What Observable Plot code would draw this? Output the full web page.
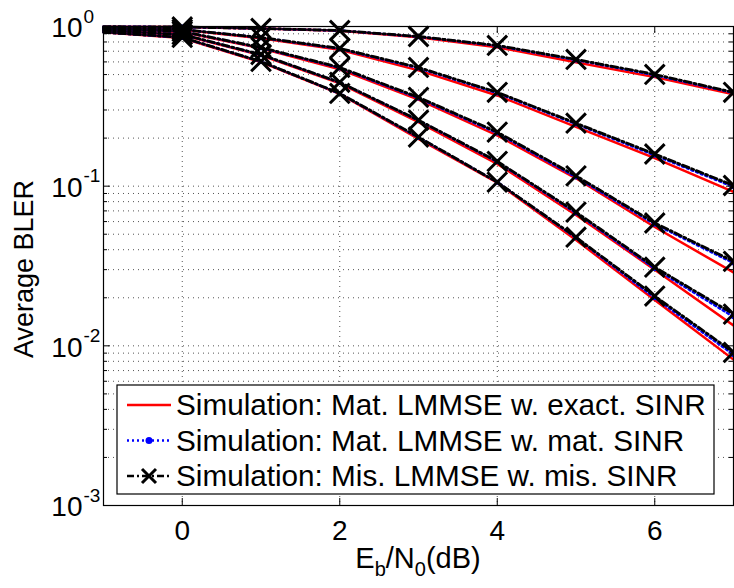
<!DOCTYPE html>
<html><head><meta charset="utf-8">
<script src="https://cdn.jsdelivr.net/npm/d3@7"></script>
<script src="https://cdn.jsdelivr.net/npm/@observablehq/plot@0.6"></script>
<style>body{margin:0;background:#fff}#chart{width:734px;height:588px}</style>
</head><body><div id="chart"></div>
<script>
const xs = [-1, 0, 1, 2, 3, 4, 5, 6, 7];
const groups = ["A", "B", "C", "D", "E"];
// Simulation: Mat. LMMSE w. exact. SINR (red solid)
const exactA = [0.997, 0.992, 0.970, 0.940, 0.855, 0.742, 0.598, 0.482, 0.376];
const exactB = [0.980, 0.955, 0.845, 0.715, 0.531, 0.370, 0.235, 0.150, 0.092];
const exactC = [0.962, 0.925, 0.730, 0.540, 0.348, 0.208, 0.112, 0.0555, 0.0288];
const exactD = [0.943, 0.885, 0.660, 0.440, 0.252, 0.138, 0.066, 0.030, 0.0134];
const exactE = [0.920, 0.847, 0.598, 0.378, 0.198, 0.105, 0.046, 0.0194, 0.0082];
// Simulation: Mat. LMMSE w. mat. SINR (blue dotted)
const matA = [0.997, 0.993, 0.971, 0.943, 0.863, 0.757, 0.617, 0.496, 0.384];
const matB = [0.980, 0.957, 0.851, 0.725, 0.549, 0.383, 0.245, 0.156, 0.099];
const matC = [0.962, 0.929, 0.736, 0.550, 0.356, 0.215, 0.114, 0.0578, 0.0330];
const matD = [0.943, 0.889, 0.666, 0.446, 0.258, 0.142, 0.068, 0.0305, 0.0152];
const matE = [0.920, 0.852, 0.603, 0.380, 0.202, 0.106, 0.0475, 0.0200, 0.0088];
// Simulation: Mis. LMMSE w. mis. SINR (black dash-dot, x)
const misA = [0.997, 0.993, 0.972, 0.944, 0.866, 0.761, 0.622, 0.501, 0.387];
const misB = [0.980, 0.958, 0.853, 0.729, 0.554, 0.387, 0.248, 0.159, 0.101];
const misC = [0.962, 0.931, 0.739, 0.554, 0.360, 0.218, 0.116, 0.0588, 0.0338];
const misD = [0.943, 0.891, 0.668, 0.447, 0.259, 0.143, 0.0688, 0.0311, 0.0158];
const misE = [0.920, 0.854, 0.604, 0.381, 0.203, 0.106, 0.0479, 0.0205, 0.0091];

const legendLabels = [
  "Simulation: Mat. LMMSE w. exact. SINR",
  "Simulation: Mat. LMMSE w. mat. SINR",
  "Simulation: Mis. LMMSE w. mis. SINR"
];
const xTicks = [0, 2, 4, 6];
const yMajor = [1e-3, 1e-2, 1e-1, 1];
const yMinor = [];
for (const p of [1e-3, 1e-2, 1e-1]) for (let k = 2; k <= 9; k++) yMinor.push(k * p);

function rows(method, arrs) {
  const out = [];
  arrs.forEach((arr, gi) => arr.forEach((v, i) => out.push({x: xs[i], y: v, group: groups[gi], method})));
  return out;
}
const exact = rows("exact", [exactA, exactB, exactC, exactD, exactE]);
const mat = rows("mat", [matA, matB, matC, matD, matE]);
const mis = rows("mis", [misA, misB, misC, misD, misE]);

const FONT = "'Liberation Sans', Arial, Helvetica, sans-serif";
const W = 734, H = 588, mL = 103, mR = 1, mT = 26, mB = 83;
const fw = W - mL - mR, fh = H - mT - mB;

const chart = Plot.plot({
  width: W, height: H,
  marginLeft: mL, marginRight: mR, marginTop: mT, marginBottom: mB,
  style: {background: "white", fontFamily: FONT, overflow: "visible"},
  x: {domain: [-1, 7], axis: null},
  y: {type: "log", domain: [1e-3, 1], axis: null},
  marks: [
    Plot.ruleY(yMinor.concat(yMajor.slice(1, 3)), {y: d => d, stroke: "#555", strokeWidth: 1, strokeDasharray: "1,4"}),
    Plot.ruleX(xTicks, {x: d => d, stroke: "#555", strokeWidth: 1, strokeDasharray: "1,4"}),
    Plot.line(exact, {x: "x", y: "y", z: "group", stroke: "#ff0000", strokeWidth: 2.5}),
    Plot.line(mat, {x: "x", y: "y", z: "group", stroke: "#0000ff", strokeWidth: 2.5, strokeDasharray: "2,3"}),
    Plot.dot(mat.filter(d => d.x >= 0), {x: "x", y: "y", r: 2.5, fill: "#0000ff", stroke: "none"}),
    Plot.line(mis, {x: "x", y: "y", z: "group", stroke: "#000", strokeWidth: 2.8, strokeDasharray: "7,3,2,3"}),
    Plot.dot(mis.filter(d => d.x >= 0), {x: "x", y: "y", r: 9, symbol: "times", stroke: "#000", strokeWidth: 3}),
    // ticks (inward)
    Plot.tickY(yMajor, {y: d => d, stroke: "#000", insetRight: fw - 7}),
    Plot.tickY(yMajor, {y: d => d, stroke: "#000", insetLeft: fw - 7}),
    Plot.tickY(yMinor, {y: d => d, stroke: "#000", insetRight: fw - 4}),
    Plot.tickY(yMinor, {y: d => d, stroke: "#000", insetLeft: fw - 4}),
    Plot.tickX(xTicks, {x: d => d, stroke: "#000", insetTop: fh - 7}),
    Plot.tickX(xTicks, {x: d => d, stroke: "#000", insetBottom: fh - 7}),
    Plot.frame({stroke: "#000", strokeWidth: 1.2}),
    // tick labels
    Plot.text(xTicks, {x: d => d, frameAnchor: "bottom", dy: 26, text: d => String(d), fontSize: 28, lineAnchor: "middle", fill: "#000"}),
    Plot.text(yMajor, {y: d => d, frameAnchor: "left", dx: -21, dy: 2, text: () => "10", textAnchor: "end", lineAnchor: "middle", fontSize: 28, fill: "#000"}),
    Plot.text(yMajor, {y: d => d, frameAnchor: "left", dx: -20, dy: -10, text: d => String(Math.round(Math.log10(d))), textAnchor: "start", lineAnchor: "middle", fontSize: 19, fill: "#000"})
  ]
});
document.getElementById("chart").append(chart);

const svg = d3.select(chart.tagName.toLowerCase() === "svg" ? chart : chart.querySelector("svg"));
// x label with subscripts
const xl = svg.append("text").attr("x", mL + fw / 2).attr("y", 568).attr("text-anchor", "middle")
  .attr("font-family", FONT).attr("font-size", 29).attr("fill", "#000");
xl.append("tspan").text("E");
xl.append("tspan").attr("dy", 8).attr("font-size", 20).text("b");
xl.append("tspan").attr("dy", -8).text("/N");
xl.append("tspan").attr("dy", 8).attr("font-size", 20).text("0");
xl.append("tspan").attr("dy", -8).text("(dB)");
// y label
svg.append("text").attr("transform", `translate(33,269) rotate(-90)`)
  .attr("text-anchor", "middle").attr("font-family", FONT).attr("font-size", 27).attr("fill", "#000")
  .text("Average BLER");
// legend
const lg = svg.append("g");
lg.append("rect").attr("x", 117).attr("y", 385).attr("width", 597).attr("height", 109)
  .style("fill", "#ffffff").attr("stroke", "#000").attr("stroke-width", 1.2);
const rowsY = [405, 440.5, 476];
lg.append("line").attr("x1", 127).attr("x2", 171).attr("y1", rowsY[0]).attr("y2", rowsY[0]).attr("stroke", "#ff0000").attr("stroke-width", 2.5);
lg.append("line").attr("x1", 127).attr("x2", 171).attr("y1", rowsY[1]).attr("y2", rowsY[1]).attr("stroke", "#0000ff").attr("stroke-width", 2.5).attr("stroke-dasharray", "2,3");
lg.append("circle").attr("cx", 149).attr("cy", rowsY[1]).attr("r", 3.5).style("fill", "#0000ff");
lg.append("line").attr("x1", 127).attr("x2", 171).attr("y1", rowsY[2]).attr("y2", rowsY[2]).attr("stroke", "#000").attr("stroke-width", 2.5).attr("stroke-dasharray", "7,3,2,3");
lg.append("path").attr("d", `M142,${rowsY[2]-7}L156,${rowsY[2]+7}M142,${rowsY[2]+7}L156,${rowsY[2]-7}`).attr("stroke", "#000").attr("stroke-width", 3).style("fill", "none");
legendLabels.forEach((t, i) => {
  lg.append("text").attr("x", 176).attr("y", rowsY[i]).attr("dy", "0.35em").attr("text-anchor", "start")
    .attr("font-family", FONT).attr("font-size", 29.7).style("fill", "#000").text(t);
});
</script></body></html>
